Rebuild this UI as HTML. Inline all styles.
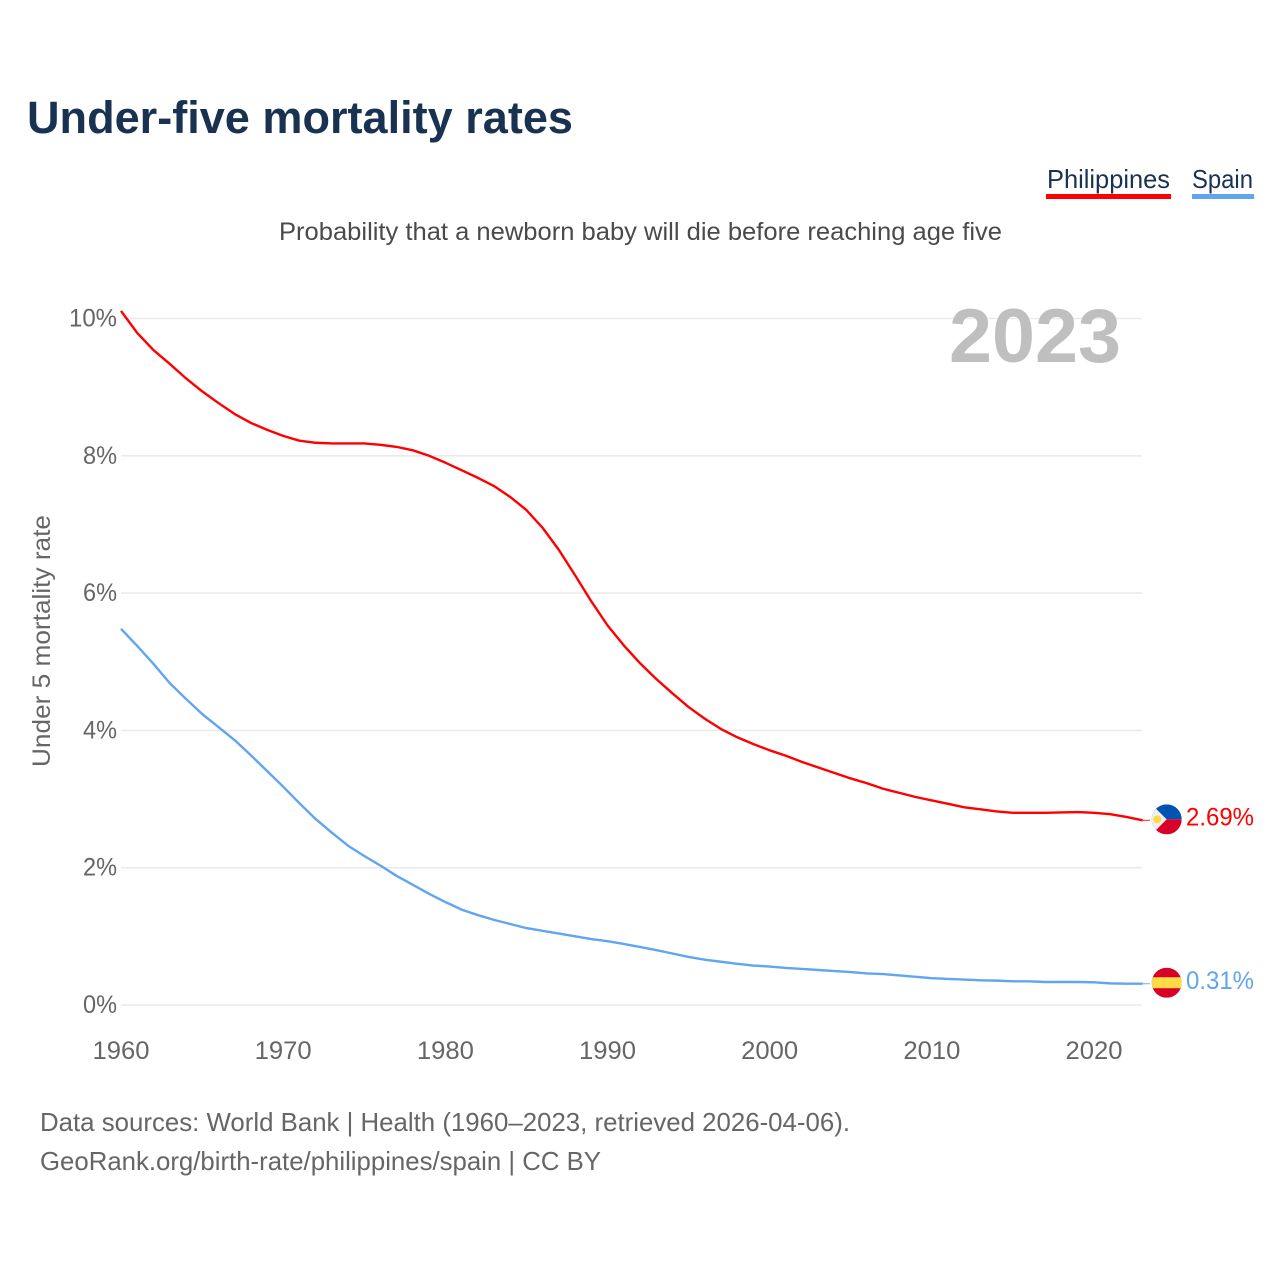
<!DOCTYPE html>
<html lang="en">
<head>
<meta charset="utf-8">
<title>Under-five mortality rates</title>
<style>
html,body{margin:0;padding:0;background:#fff;}
svg{display:block;font-family:"Liberation Sans",sans-serif;}
</style>
</head>
<body>
<svg id="chart" width="1280" height="1280" viewBox="0 0 1280 1280" xmlns="http://www.w3.org/2000/svg">
  <rect x="0" y="0" width="1280" height="1280" fill="#fff"/>
  <text x="27" y="133" font-size="45" font-weight="700" fill="#1a3251" textLength="546" lengthAdjust="spacingAndGlyphs">Under-five mortality rates</text>
  <g>
    <text x="1047" y="188" font-size="26" fill="#1a3251" textLength="123" lengthAdjust="spacingAndGlyphs">Philippines</text>
    <rect x="1046" y="194" width="125" height="5" fill="#ff0000"/>
  </g>
  <g>
    <text x="1192" y="188" font-size="26" fill="#1a3251" textLength="61" lengthAdjust="spacingAndGlyphs">Spain</text>
    <rect x="1192" y="194" width="62" height="5" fill="#60a5f0"/>
  </g>
  <text x="279" y="240" font-size="25" fill="#4a4a4a" textLength="723" lengthAdjust="spacingAndGlyphs">Probability that a newborn baby will die before reaching age five</text>
  <text transform="translate(50,767) rotate(-90)" x="0" y="0" font-size="25" fill="#666" textLength="252" lengthAdjust="spacingAndGlyphs">Under 5 mortality rate</text>
  <g id="grid"></g>
  <g id="yticks"></g>
  <g id="xticks"></g>
  <text x="949" y="362" font-size="76" font-weight="700" fill="#bfbfbf" textLength="172" lengthAdjust="spacingAndGlyphs">2023</text>
  <g id="series"></g>
  <g id="ends"></g>
  <text x="40" y="1131" font-size="26" fill="#666" textLength="810" lengthAdjust="spacingAndGlyphs">Data sources: World Bank | Health (1960–2023, retrieved 2026-04-06).</text>
  <text x="40" y="1170" font-size="26" fill="#666" textLength="561" lengthAdjust="spacingAndGlyphs">GeoRank.org/birth-rate/philippines/spain | CC BY</text>
</svg>
<script>
const startYear = 1960;
const xTickYears = [1960, 1970, 1980, 1990, 2000, 2010, 2020];
const yTickValues = [0, 2, 4, 6, 8, 10];
const philippines = [10.11, 9.79, 9.54, 9.34, 9.13, 8.94, 8.77, 8.61, 8.48, 8.38, 8.29, 8.22, 8.19, 8.18, 8.18, 8.18, 8.16, 8.13, 8.08, 8.00, 7.90, 7.79, 7.68, 7.56, 7.40, 7.21, 6.95, 6.63, 6.26, 5.88, 5.53, 5.24, 4.98, 4.75, 4.54, 4.34, 4.17, 4.02, 3.90, 3.80, 3.71, 3.63, 3.54, 3.46, 3.38, 3.30, 3.23, 3.15, 3.09, 3.03, 2.98, 2.93, 2.88, 2.85, 2.82, 2.80, 2.80, 2.80, 2.805, 2.81, 2.80, 2.78, 2.74, 2.69];
const spain = [5.48, 5.23, 4.97, 4.69, 4.46, 4.24, 4.05, 3.86, 3.64, 3.41, 3.18, 2.94, 2.71, 2.51, 2.32, 2.17, 2.03, 1.88, 1.75, 1.62, 1.50, 1.39, 1.31, 1.24, 1.18, 1.12, 1.08, 1.04, 1.00, 0.96, 0.93, 0.89, 0.845, 0.80, 0.75, 0.70, 0.66, 0.63, 0.60, 0.575, 0.56, 0.54, 0.525, 0.51, 0.495, 0.48, 0.46, 0.45, 0.43, 0.41, 0.39, 0.38, 0.37, 0.36, 0.355, 0.345, 0.345, 0.335, 0.335, 0.335, 0.33, 0.315, 0.31, 0.31];

const NS = 'http://www.w3.org/2000/svg';
function xScale(year) { return 121 + (year - 1960) * 16.217; }
function yScale(value) { return 1005 - value * 68.65; }
function mk(tag, parent, attrs) {
  const el = document.createElementNS(NS, tag);
  for (const k in attrs) el.setAttribute(k, attrs[k]);
  parent.appendChild(el);
  return el;
}

const gridG = document.getElementById('grid');
const yG = document.getElementById('yticks');
const xG = document.getElementById('xticks');
const seriesG = document.getElementById('series');
const endsG = document.getElementById('ends');

yTickValues.forEach(function (v) {
  const line = mk('line', gridG, { x1: 121, x2: 1142, y1: yScale(v), y2: yScale(v), stroke: '#ebebeb', 'stroke-width': 1.6 });
  
  
  const t = mk('text', yG, { x: 117, y: yScale(v) + 8, 'text-anchor': 'end', 'font-size': 25, fill: '#666', textLength: String(v).length * 14 + 20, lengthAdjust: 'spacingAndGlyphs' });
  t.textContent = v + '%';
  
  
});

xTickYears.forEach(function (y) {
  const t = mk('text', xG, { x: xScale(y), y: 1059, 'text-anchor': 'middle', 'font-size': 25, fill: '#666', textLength: 57, lengthAdjust: 'spacingAndGlyphs' });
  t.textContent = y;
  
  
});

function drawSeries(values, color) {
  const pts = values.map(function (v, i) { return xScale(startYear + i).toFixed(2) + ',' + yScale(v).toFixed(2); }).join(' ');
  const line = mk('polyline', seriesG, { points: pts, fill: 'none', stroke: color, 'stroke-width': 2.4, 'stroke-linejoin': 'round', 'stroke-linecap': 'butt' });
  
  
}
drawSeries(philippines, '#ff0000');
drawSeries(spain, '#60a5f0');

function drawEnd(values, color, flagFn) {
  const last = values[values.length - 1];
  const lastX = xScale(startYear + values.length - 1);
  const cy = yScale(last) - 1;
  const cx = 1166.7;
  const conn = mk('line', endsG, { x1: lastX, x2: 1150, y1: yScale(last), y2: yScale(last), stroke: color, 'stroke-width': 1.1, opacity: 0.8 });
  
  
  flagFn(cx, cy);
  const t = mk('text', endsG, { x: 1186, y: cy + 6.3, 'font-size': 25, fill: color, textLength: 68, lengthAdjust: 'spacingAndGlyphs' });
  t.textContent = last.toFixed(2) + '%';
  
  
}

function flagPhilippines(cx, cy) {
  const g = mk('g', endsG, {});
  
  
  const r = 15;
  const defs = mk('defs', g, {});
  const cp = mk('clipPath', defs, { id: 'clip-ph' });
  mk('circle', cp, { cx: cx, cy: cy, r: r });
  const c = mk('g', g, { 'clip-path': 'url(#clip-ph)' });
  mk('rect', c, { x: cx - r, y: cy - r, width: 2 * r, height: r, fill: '#0052b4' });
  mk('rect', c, { x: cx - r, y: cy, width: 2 * r, height: r, fill: '#d80027' });
  mk('polygon', c, { points: (cx - r) + ',' + (cy - r) + ' ' + cx + ',' + cy + ' ' + (cx - r) + ',' + (cy + r), fill: '#f0f0f0' });
  mk('circle', c, { cx: cx - 9.5, cy: cy, r: 4, fill: '#ffda44' });
}

function flagSpain(cx, cy) {
  const g = mk('g', endsG, {});
  
  
  const r = 15;
  const defs = mk('defs', g, {});
  const cp = mk('clipPath', defs, { id: 'clip-es' });
  mk('circle', cp, { cx: cx, cy: cy, r: r });
  const c = mk('g', g, { 'clip-path': 'url(#clip-es)' });
  mk('rect', c, { x: cx - r, y: cy - r, width: 2 * r, height: 2 * r, fill: '#d80027' });
  mk('rect', c, { x: cx - r, y: cy - 5.5, width: 2 * r, height: 11, fill: '#ffda44' });
}

drawEnd(philippines, '#ff0000', flagPhilippines);
drawEnd(spain, '#60a5f0', flagSpain);
</script>
</body>
</html>
